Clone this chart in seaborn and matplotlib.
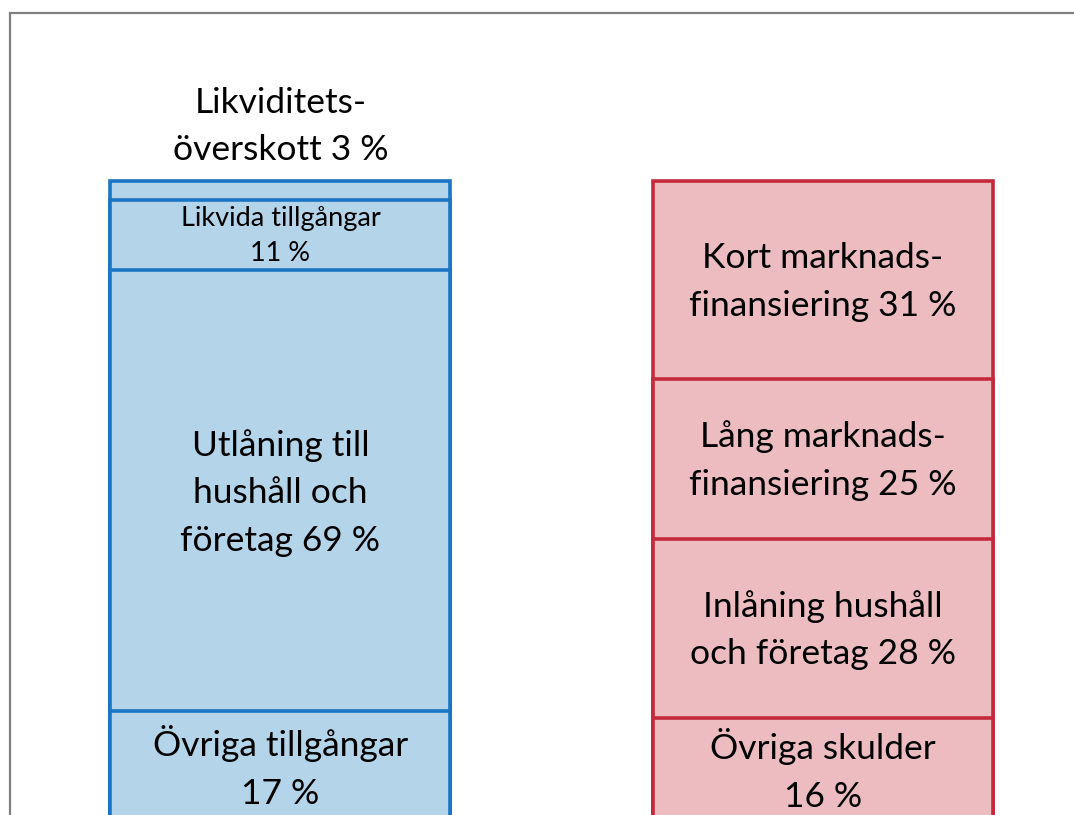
import pandas as pd
import matplotlib.pyplot as plt
import seaborn as sns
from matplotlib.patches import Rectangle

# segments from bottom to top
sides = ['Tillgångar', 'Skulder']
asset_names = ['Övriga tillgångar\n{} %', 'Utlåning till\nhushåll och\nföretag {} %',
               'Likvida tillgångar\n{} %', 'Likviditets-\növerskott {} %']
asset_values = [17, 69, 11, 3]
liab_names = ['Övriga skulder\n{} %', 'Inlåning hushåll\noch företag {} %',
              'Lång marknads-\nfinansiering {} %', 'Kort marknads-\nfinansiering {} %']
liab_values = [16, 28, 25, 31]

styles = {
    'Tillgångar': {'fill': '#b4d4ea', 'edge': '#1a75c4'},
    'Skulder': {'fill': '#ecbcc1', 'edge': '#c42a3b'},
}

rows = []
for side, names, values in [(sides[0], asset_names, asset_values), (sides[1], liab_names, liab_values)]:
    cum = 0
    for i, (n, v) in enumerate(zip(names, values)):
        rows.append({'side': side, 'level': i, 'label': n.format(v), 'value': v,
                     'bottom': cum, 'top': cum + v})
        cum += v
df = pd.DataFrame(rows)

sns.set_style('white')
plt.rcParams['font.family'] = ['Lato', 'DejaVu Sans']

fig = plt.figure(figsize=(10.74, 8.15), dpi=100)
ax = fig.add_axes([0, 0, 1, 1])

# draw cumulative bars, tallest first, so each segment boundary shows as an edge
for level in sorted(df['level'].unique(), reverse=True):
    sub = df[df['level'] == level]
    for side in sides:
        part = sub[sub['side'] == side]
        sns.barplot(data=part, x='side', y='top', order=sides, ax=ax, width=0.627,
                    color=styles[side]['fill'], edgecolor=styles[side]['edge'],
                    linewidth=2.6, saturation=1, errorbar=None)

# labels inside the segments (top asset segment is labelled above the bar)
for _, r in df.iterrows():
    xpos = sides.index(r['side'])
    if r['side'] == 'Tillgångar' and r['level'] == 3:
        ax.text(xpos, r['top'] + 8.5, r['label'], ha='center', va='center',
                fontsize=25.5, linespacing=1.6, color='black')
    elif r['side'] == 'Tillgångar' and r['level'] == 2:
        ax.text(xpos, (r['bottom'] + r['top']) / 2 - 0.2, r['label'], ha='center', va='center',
                fontsize=19.5, linespacing=1.5, color='black')
    else:
        ax.text(xpos, (r['bottom'] + r['top']) / 2 - 0.3, r['label'], ha='center', va='center',
                fontsize=25.5, linespacing=1.6, color='black')

ax.set_xlim(-0.517, 1.463)
ax.set_ylim(0.78, 128.3)
ax.axis('off')

# outer frame of the slide
fig.patches.append(Rectangle((10 / 1074, -0.2), 1.5, 1.2 - 13 / 815, transform=fig.transFigure,
                             fill=False, edgecolor='#7f7f7f', linewidth=1.6))

fig.savefig('out.png', dpi=100)
